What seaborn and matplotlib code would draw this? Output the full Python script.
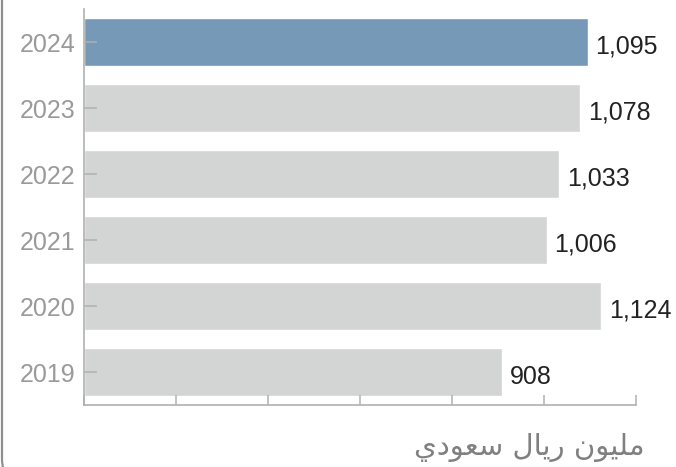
import matplotlib
matplotlib.use("Agg")
import matplotlib.pyplot as plt
from matplotlib.patches import FancyBboxPatch
from matplotlib.transforms import IdentityTransform
import seaborn as sns
import pandas as pd

# Data (top to bottom)
years = ["2024", "2023", "2022", "2021", "2020", "2019"]
values = [1095, 1078, 1033, 1006, 1124, 908]
highlight = ["yes", "no", "no", "no", "no", "no"]
unit_label = "مليون ريال سعودي"

# matplotlib has no Arabic shaping: pre-shaped presentation forms, visual order
unit_shaped = ("\uFEE3\uFEE0\uFEF4\uFEEE\uFEE5 "
               "\uFEAD\uFEF3\uFE8E\uFEDD "
               "\uFEB3\uFECC\uFEEE\uFEA9\uFEF1")[::-1]

df = pd.DataFrame({"year": years, "value": values, "hl": highlight})

sns.set_style("white")
plt.rcParams["font.family"] = ["Liberation Sans", "DejaVu Sans"]

fig = plt.figure(figsize=(6.76, 4.67), dpi=100)
ax = fig.add_axes([84 / 676, 62 / 467, 552 / 676, 396 / 467])

sns.barplot(data=df, x="value", y="year", hue="hl", orient="h",
            palette={"yes": "#7799b8", "no": "#d3d4d4"},
            width=0.72, legend=False, ax=ax, saturation=1)

ax.set_axisbelow(False)  # ticks sit on top of the bars
ax.set_xlim(0, 1200)
ax.set_ylim(5.5, -0.5)
ax.set_xticks(range(0, 1201, 200))
ax.set_xticklabels([])
ax.set_xlabel("")
ax.set_ylabel("")

for s in ["top", "right"]:
    ax.spines[s].set_visible(False)
for s in ["left", "bottom"]:
    ax.spines[s].set_color("#b0b0b0")
    ax.spines[s].set_linewidth(1.2)

ax.tick_params(axis="y", left=True, direction="in", length=9.5, width=1.1,
               color="#b0b0b0", labelsize=18, labelcolor="#9a9a9a", pad=6)
ax.tick_params(axis="x", bottom=True, direction="in", length=7, width=1.1,
               color="#b0b0b0")

for i, v in enumerate(values):
    ax.text(v + 17, i + 0.07, f"{v:,}", ha="left", va="center",
            fontsize=18, color="#222222")

fig.text(645 / 676, 20 / 467, unit_shaped, ha="right", va="center",
         fontsize=21, color="#808080", family=["DejaVu Sans"])

# card border on the left (bottom edge falls just below the canvas)
card = FancyBboxPatch((2, -14), 1200, 1000,
                      boxstyle="round,pad=0,rounding_size=22",
                      transform=IdentityTransform(), fill=False,
                      edgecolor="#8f8f8f", linewidth=1.6)
fig.patches.append(card)

fig.savefig("out.png", dpi=100)
